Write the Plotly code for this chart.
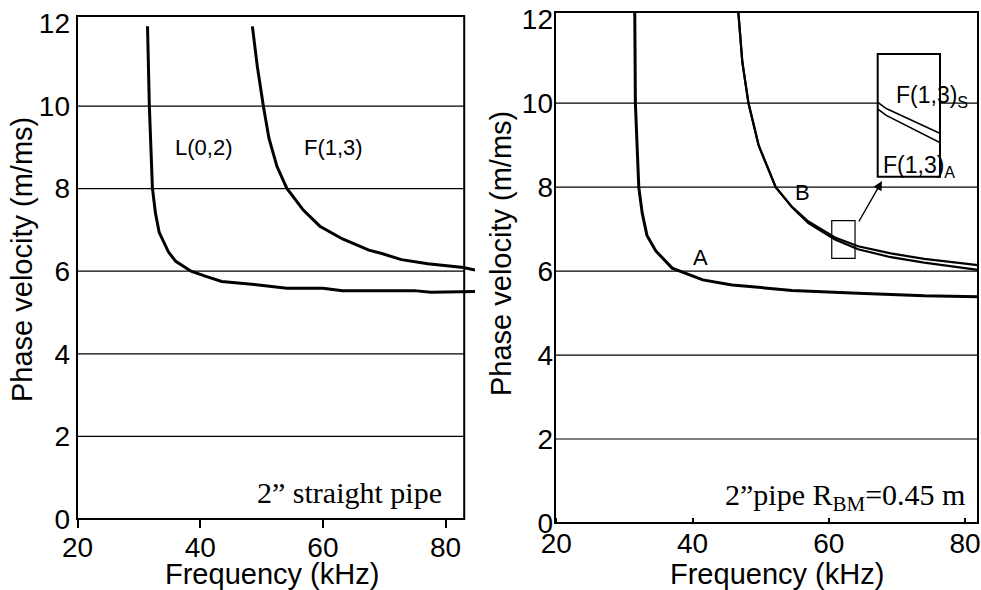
import plotly.graph_objects as go

W, H = 981, 590

# ---------------- data ----------------
# Left panel: 2" straight pipe
l02_freq = [31.4, 31.7, 32.2, 32.7, 33.3, 33.9, 34.8, 36.0, 38.5, 40.8, 43.5, 48.8, 54.1, 60.0, 63.2, 74.9, 77.6, 84.8]
l02_vel = [11.93, 9.99, 8.01, 7.40, 6.94, 6.74, 6.47, 6.24, 6.00, 5.88, 5.75, 5.68, 5.59, 5.59, 5.53, 5.53, 5.49, 5.51]

f13_freq = [48.5, 49.3, 50.3, 51.2, 52.5, 54.1, 56.8, 59.5, 63.2, 67.5, 69.6, 72.8, 77.1, 82.9, 84.8]
f13_vel = [11.93, 10.96, 9.99, 9.22, 8.54, 8.01, 7.48, 7.09, 6.78, 6.51, 6.43, 6.28, 6.18, 6.09, 6.03]

# Right panel: 2" pipe, R_BM = 0.45 m
a_freq = [31.5, 31.6, 32.1, 32.6, 33.3, 34.6, 37.0, 41.5, 45.8, 54.6, 64.3, 74.0, 81.9]
a_vel = [12.4, 10.0, 8.0, 7.38, 6.85, 6.48, 6.07, 5.79, 5.67, 5.54, 5.47, 5.41, 5.39]

b_freq = [46.6, 47.3, 48.2, 49.7, 52.2, 54.6, 57.0, 60.9, 64.3, 69.1, 74.0, 78.8, 81.9]
bS_vel = [12.4, 10.98, 10.0, 8.99, 8.0, 7.53, 7.18, 6.80, 6.59, 6.42, 6.29, 6.20, 6.14]
bA_vel = [12.4, 10.98, 10.0, 8.99, 8.0, 7.52, 7.14, 6.75, 6.52, 6.33, 6.20, 6.09, 6.03]

x_ticks = [20, 40, 60, 80]
y_ticks = [0, 2, 4, 6, 8, 10, 12]
grid_vals = [2, 4, 6, 8, 10]

# ---------------- geometry ----------------
def pxx(p):
    return p / W


def pxy(p):
    return 1 - p / H


L_xdom = [pxx(77), pxx(475)]
L_ydom = [pxy(519), pxy(16)]
L_xr = [19.9, 84.8]
L_yr = [0, 12.18]
L_frame_x = 83.04

R_xdom = [pxx(555), pxx(978)]
R_ydom = [pxy(523), pxy(12)]
R_xr = [19.8, 81.9]
R_yr = [0, 12.17]

I_xdom = [pxx(877.7), pxx(940)]
I_ydom = [pxy(176.7), pxy(54)]
I_xr = [60.43, 63.85]
I_yr = [6.3, 7.2]


def to_paper(x, y, xdom, ydom, xr, yr):
    px = xdom[0] + (x - xr[0]) / (xr[1] - xr[0]) * (xdom[1] - xdom[0])
    py = ydom[0] + (y - yr[0]) / (yr[1] - yr[0]) * (ydom[1] - ydom[0])
    return px, py


SANS = "Liberation Sans, Arial, sans-serif"
SERIF = "Liberation Serif, Times New Roman, serif"

fig = go.Figure()

fig.add_trace(go.Scatter(x=l02_freq, y=l02_vel, mode="lines", line=dict(color="black", width=3),
                         xaxis="x", yaxis="y", showlegend=False, hoverinfo="skip"))
fig.add_trace(go.Scatter(x=f13_freq, y=f13_vel, mode="lines", line=dict(color="black", width=3),
                         xaxis="x", yaxis="y", showlegend=False, hoverinfo="skip"))

fig.add_trace(go.Scatter(x=a_freq, y=a_vel, mode="lines", line=dict(color="black", width=3),
                         xaxis="x2", yaxis="y2", showlegend=False, hoverinfo="skip"))
fig.add_trace(go.Scatter(x=b_freq, y=bS_vel, mode="lines", line=dict(color="black", width=2.2),
                         xaxis="x2", yaxis="y2", showlegend=False, hoverinfo="skip"))
fig.add_trace(go.Scatter(x=b_freq, y=bA_vel, mode="lines", line=dict(color="black", width=2.2),
                         xaxis="x2", yaxis="y2", showlegend=False, hoverinfo="skip"))

# inset (magnified view of the small box)
fig.add_trace(go.Scatter(x=b_freq, y=bS_vel, mode="lines", line=dict(color="black", width=1.6),
                         xaxis="x3", yaxis="y3", showlegend=False, hoverinfo="skip"))
fig.add_trace(go.Scatter(x=b_freq, y=bA_vel, mode="lines", line=dict(color="black", width=1.6),
                         xaxis="x3", yaxis="y3", showlegend=False, hoverinfo="skip"))

shapes = []
# gridlines
for g in grid_vals:
    x0, y0 = to_paper(L_xr[0], g, L_xdom, L_ydom, L_xr, L_yr)
    x1, _ = to_paper(L_frame_x, g, L_xdom, L_ydom, L_xr, L_yr)
    shapes.append(dict(type="line", xref="paper", yref="paper", x0=x0, x1=x1, y0=y0, y1=y0,
                       line=dict(color="black", width=1.2), layer="below"))
    x0, y0 = to_paper(R_xr[0], g, R_xdom, R_ydom, R_xr, R_yr)
    x1, _ = to_paper(R_xr[1], g, R_xdom, R_ydom, R_xr, R_yr)
    shapes.append(dict(type="line", xref="paper", yref="paper", x0=x0, x1=x1, y0=y0, y1=y0,
                       line=dict(color="black", width=1.2), layer="below"))

# frames
lx0, ly0 = to_paper(L_xr[0], 0, L_xdom, L_ydom, L_xr, L_yr)
lx1, ly1 = to_paper(L_frame_x, L_yr[1], L_xdom, L_ydom, L_xr, L_yr)
shapes.append(dict(type="rect", xref="paper", yref="paper", x0=lx0, x1=lx1, y0=ly0, y1=ly1,
                   line=dict(color="black", width=2), layer="below"))
shapes.append(dict(type="rect", xref="paper", yref="paper", x0=R_xdom[0], x1=R_xdom[1],
                   y0=R_ydom[0], y1=R_ydom[1], line=dict(color="black", width=2), layer="below"))

# small box marking the magnified region
sx0, sy0 = to_paper(I_xr[0], I_yr[0], R_xdom, R_ydom, R_xr, R_yr)
sx1, sy1 = to_paper(I_xr[1], I_yr[1], R_xdom, R_ydom, R_xr, R_yr)
shapes.append(dict(type="rect", xref="paper", yref="paper", x0=sx0, x1=sx1, y0=sy0, y1=sy1,
                   line=dict(color="black", width=1.2), layer="below"))

# inset box (white)
shapes.append(dict(type="rect", xref="paper", yref="paper", x0=I_xdom[0], x1=I_xdom[1],
                   y0=I_ydom[0], y1=I_ydom[1], fillcolor="white",
                   line=dict(color="black", width=2), layer="below"))


def txt(text, xref, yref, x, y, size, family=SANS, xanchor="center", yanchor="middle", **kw):
    return dict(text=text, xref=xref, yref=yref, x=x, y=y, showarrow=False,
                xanchor=xanchor, yanchor=yanchor,
                font=dict(family=family, size=size, color="black"), **kw)


annotations = [
    txt("L(0,2)", "x", "y", 40.6, 9.0, 22),
    txt("F(1,3)", "x", "y", 61.7, 9.0, 22),
    txt("2\u201d straight pipe", "x", "y", 79.7, 0.65, 30, family=SERIF, xanchor="right"),
    txt("A", "x2", "y2", 41.1, 6.33, 22),
    txt("B", "x2", "y2", 56.1, 7.86, 22),
    txt("2\u201dpipe R<sub>BM</sub>=0.45 m", "x2", "y2", 80.3, 0.62, 30, family=SERIF,
        xanchor="right"),
    txt("F(1,3)<sub>S</sub>", "paper", "paper", pxx(894), pxy(96), 23, xanchor="left"),
    txt("F(1,3)<sub>A</sub>", "paper", "paper", pxx(881), pxy(166), 23, xanchor="left"),
    # axis titles
    txt("Phase velocity (m/ms)", "paper", "paper", pxx(22), pxy(260), 29, textangle=-90),
    txt("Phase velocity (m/ms)", "paper", "paper", pxx(501), pxy(254), 29, textangle=-90),
    txt("Frequency (kHz)", "paper", "paper", pxx(272), pxy(574), 29),
    txt("Frequency (kHz)", "paper", "paper", pxx(777), pxy(574), 29),
    # arrow from small box to inset
    dict(text="", xref="paper", yref="paper", x=pxx(882), y=pxy(181), ax=-24, ay=42,
         showarrow=True, arrowhead=2, arrowsize=1.3, arrowwidth=1.4, arrowcolor="black"),
]

tickfont = dict(family=SANS, size=28, color="black")

fig.update_layout(
    template="none",
    width=W, height=H, autosize=False,
    margin=dict(l=0, r=0, t=0, b=0, pad=0),
    paper_bgcolor="white", plot_bgcolor="rgba(0,0,0,0)",
    showlegend=False,
    xaxis=dict(domain=L_xdom, range=L_xr, anchor="y", tickvals=x_ticks, ticks="outside",
               ticklen=8, tickwidth=1.5, tickcolor="black", showgrid=False, zeroline=False,
               showline=False, tickfont=tickfont, ticklabelstandoff=-5, automargin=False),
    yaxis=dict(domain=L_ydom, range=L_yr, anchor="x", tickvals=y_ticks, ticks="",
               showgrid=False, zeroline=False, showline=False, tickfont=tickfont,
               ticklabelstandoff=6, automargin=False),
    xaxis2=dict(domain=R_xdom, range=R_xr, anchor="y2", tickvals=x_ticks, ticks="inside",
                ticklen=5, tickwidth=1.5, tickcolor="black", showgrid=False, zeroline=False,
                showline=False, tickfont=tickfont, ticklabelstandoff=1, automargin=False),
    yaxis2=dict(domain=R_ydom, range=R_yr, anchor="x2", tickvals=y_ticks, ticks="",
                showgrid=False, zeroline=False, showline=False, tickfont=tickfont,
                ticklabelstandoff=1, automargin=False),
    xaxis3=dict(domain=I_xdom, range=I_xr, anchor="y3", visible=False, automargin=False),
    yaxis3=dict(domain=I_ydom, range=I_yr, anchor="x3", visible=False, automargin=False),
    shapes=shapes,
    annotations=annotations,
)

fig.write_html("out.html", config={"displayModeBar": False},
               post_script="document.body.style.margin='0px';")
